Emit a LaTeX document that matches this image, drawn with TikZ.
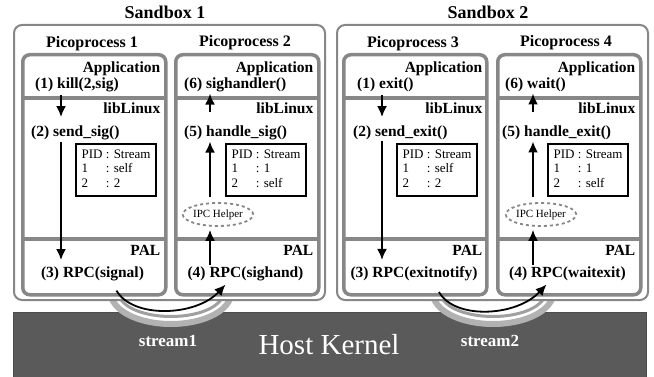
\documentclass[tikz,border=0pt]{standalone}
\usepackage{fontspec}
\setmainfont{Liberation Serif}
\usetikzlibrary{arrows.meta,shapes.geometric}

\definecolor{boxgray}{RGB}{135,135,135}
\definecolor{pipegray}{RGB}{178,178,178}
\definecolor{wallgray}{RGB}{160,160,160}
\definecolor{kernelgray}{RGB}{90,90,90}

\tikzset{
  sandbox/.style={draw=boxgray, line width=2pt, rounded corners=8pt, fill=white, anchor=north west},
  pico/.style={draw=boxgray, line width=3.5pt, rounded corners=7pt, fill=white, anchor=north west,
    minimum width=143pt, minimum height=240pt},
  layer/.style={draw=boxgray, line width=3.5pt},
  title/.style={font=\fontsize{18}{20}\selectfont\bfseries, inner sep=0pt, anchor=base},
  picotitle/.style={font=\fontsize{16}{18}\selectfont\bfseries, inner sep=0pt, anchor=base},
  layername/.style={font=\fontsize{15.5}{17}\selectfont\bfseries, inner sep=0pt, anchor=base east},
  stepname/.style={font=\fontsize{15.5}{17}\selectfont\bfseries, inner sep=1pt, anchor=base west},
  rpcname/.style={font=\fontsize{15.5}{17}\selectfont\bfseries, inner sep=1pt, anchor=base},
  pidtable/.style={draw, line width=1.8pt, inner xsep=5.5pt, inner ysep=4pt, anchor=north east,
    font=\fontsize{13}{14.7}\selectfont},
  ipc/.style={ellipse, draw=boxgray, dash pattern=on 3pt off 3pt, line width=1.8pt,
    minimum width=62pt, minimum height=23pt, inner sep=0pt, font=\fontsize{11}{12}\selectfont},
  flow/.style={-{Latex[length=11pt,width=10pt]}, line width=1.8pt},
  pipeout/.style={draw=pipegray, line width=6pt, fill=white},
  pipein/.style={draw=wallgray, line width=3pt},
  streamname/.style={font=\fontsize{17}{19}\selectfont\bfseries, text=white, anchor=base},
}

\newcommand{\pidlist}[2]{\begin{tabular}{@{}l@{\ }l@{}}PID & : Stream\\ 1 & : #1\\ 2 & : #2\end{tabular}}

\begin{document}
\begin{tikzpicture}[x=1pt,y=-1pt]
\useasboundingbox (0,0) rectangle (654,377);

% host kernel and streams
\node[fill=kernelgray, draw=black!70, line width=1pt, anchor=north west,
  minimum width=633pt, minimum height=70pt] (kernel) at (13,312) {};
\draw[pipeout] (111,288) -- (111,293) arc[start angle=180, end angle=0, x radius=60, y radius=31] -- (231,288);
\draw[pipein] (119,288) -- (119,293) arc[start angle=180, end angle=0, x radius=52, y radius=23.5] -- (223,288);
\draw[pipeout] (433,288) -- (433,293) arc[start angle=180, end angle=0, x radius=60, y radius=31] -- (553,288);
\draw[pipein] (441,288) -- (441,293) arc[start angle=180, end angle=0, x radius=52, y radius=23.5] -- (545,288);

% sandboxes
\node[title] (sbt1) at (165,19) {Sandbox 1};
\node[title] (sbt2) at (488,19) {Sandbox 2};
\node[sandbox, minimum width=311pt, minimum height=275pt] (sb1) at (13,24) {};
\node[sandbox, minimum width=311pt, minimum height=275pt] (sb2) at (336,24) {};

% picoprocesses
\node[picotitle] (pt1) at (92,48) {Picoprocess 1};
\node[picotitle] (pt2) at (245,47) {Picoprocess 2};
\node[picotitle] (pt3) at (413,48) {Picoprocess 3};
\node[picotitle] (pt4) at (566,47) {Picoprocess 4};
\node[pico] (pico1) at (21,53) {};
\node[pico] (pico2) at (174,53) {};
\node[pico] (pico3) at (342,53) {};
\node[pico] (pico4) at (496,53) {};
\draw[layer] (21,98) -- (164,98) (21,239) -- (164,239);
\draw[layer] (174,98) -- (317,98) (174,239) -- (317,239);
\draw[layer] (342,98) -- (486,98) (342,239) -- (486,239);
\draw[layer] (496,98) -- (639,98) (496,239) -- (639,239);

% layer names
\node[layername] (app1) at (160.5,73) {Application};
\node[layername] (lib1) at (160.5,114) {libLinux};
\node[layername] (pal1) at (160.5,255) {PAL};
\node[layername] (app2) at (313.5,73) {Application};
\node[layername] (lib2) at (313.5,114) {libLinux};
\node[layername] (pal2) at (313.5,255) {PAL};
\node[layername] (app3) at (482.5,73) {Application};
\node[layername] (lib3) at (482.5,114) {libLinux};
\node[layername] (pal3) at (482.5,255) {PAL};
\node[layername] (app4) at (635.5,73) {Application};
\node[layername] (lib4) at (635.5,114) {libLinux};
\node[layername] (pal4) at (635.5,255) {PAL};

% steps
\node[stepname] (kill) at (34,89) {(1) kill(2,sig)};
\node[stepname] (sendsig) at (30,137) {(2) send\_sig()};
\node[rpcname] (rpcsig) at (92.5,277) {(3) RPC(signal)};
\node[stepname] (sighandler) at (183,89) {(6) sighandler()};
\node[stepname] (handlesig) at (183,137) {(5) handle\_sig()};
\node[rpcname] (rpcsighand) at (245.5,277) {(4) RPC(sighand)};
\node[stepname] (exit) at (356,89) {(1) exit()};
\node[stepname] (sendexit) at (352,137) {(2) send\_exit()};
\node[rpcname] (rpcexit) at (414,277) {(3) RPC(exitnotify)};
\node[stepname] (wait) at (504,89) {(6) wait()};
\node[stepname] (handleexit) at (501,137) {(5) handle\_exit()};
\node[rpcname] (rpcwait) at (567.5,277) {(4) RPC(waitexit)};

% stream tables and helpers
\node[pidtable] (tab1) at (157,143) {\pidlist{self}{2}};
\node[pidtable] (tab2) at (307,143) {\pidlist{1}{self}};
\node[pidtable] (tab3) at (478,143) {\pidlist{self}{2}};
\node[pidtable] (tab4) at (629,143) {\pidlist{1}{self}};
\node[ipc] (ipc2) at (218,214.5) {IPC Helper};
\node[ipc] (ipc4) at (541,214.5) {IPC Helper};

% arrows
\coordinate (down1) at (61,0);
\coordinate (up2) at (210,0);
\coordinate (down3) at (382,0);
\coordinate (up4) at (533,0);
\draw[flow, shorten <=1.5pt, shorten >=8pt] (kill.south -| down1) -- (sendsig.north -| down1);
\draw[flow, shorten >=5pt] (sendsig.south -| down1) -- (rpcsig.north -| down1);
\draw[flow, shorten >=3pt] (rpcsighand.north -| up2) -- (ipc2.south -| up2);
\draw[flow, shorten <=5pt] (ipc2.north -| up2) -- (handlesig.south -| up2);
\draw[flow, shorten <=13pt] (handlesig.north -| up2) -- (sighandler.south -| up2);
\draw[flow, shorten <=1.5pt, shorten >=8pt] (exit.south -| down3) -- (sendexit.north -| down3);
\draw[flow, shorten >=5pt] (sendexit.south -| down3) -- (rpcexit.north -| down3);
\draw[flow, shorten >=3pt] (rpcwait.north -| up4) -- (ipc4.south -| up4);
\draw[flow, shorten <=5pt] (ipc4.north -| up4) -- (handleexit.south -| up4);
\draw[flow, shorten <=13pt] (handleexit.north -| up4) -- (wait.south -| up4);
\draw[flow] ([shift={(24pt,-9pt)}]rpcsig.south) .. controls +(16,28) and +(-30,32) .. ([shift={(-20pt,-3pt)}]rpcsighand.south);
\draw[flow] ([shift={(25pt,-10.5pt)}]rpcexit.south) .. controls +(16,28) and +(-30,32) .. ([shift={(-21pt,-3pt)}]rpcwait.south);

% kernel labels
\node[streamname] (stream1) at (168,346) {stream1};
\node[streamname] (stream2) at (490,346) {stream2};
\node[font=\fontsize{29}{32}\selectfont, text=white, inner sep=0pt, anchor=base] (hostkernel) at (329,354) {Host Kernel};
\end{tikzpicture}
\end{document}
